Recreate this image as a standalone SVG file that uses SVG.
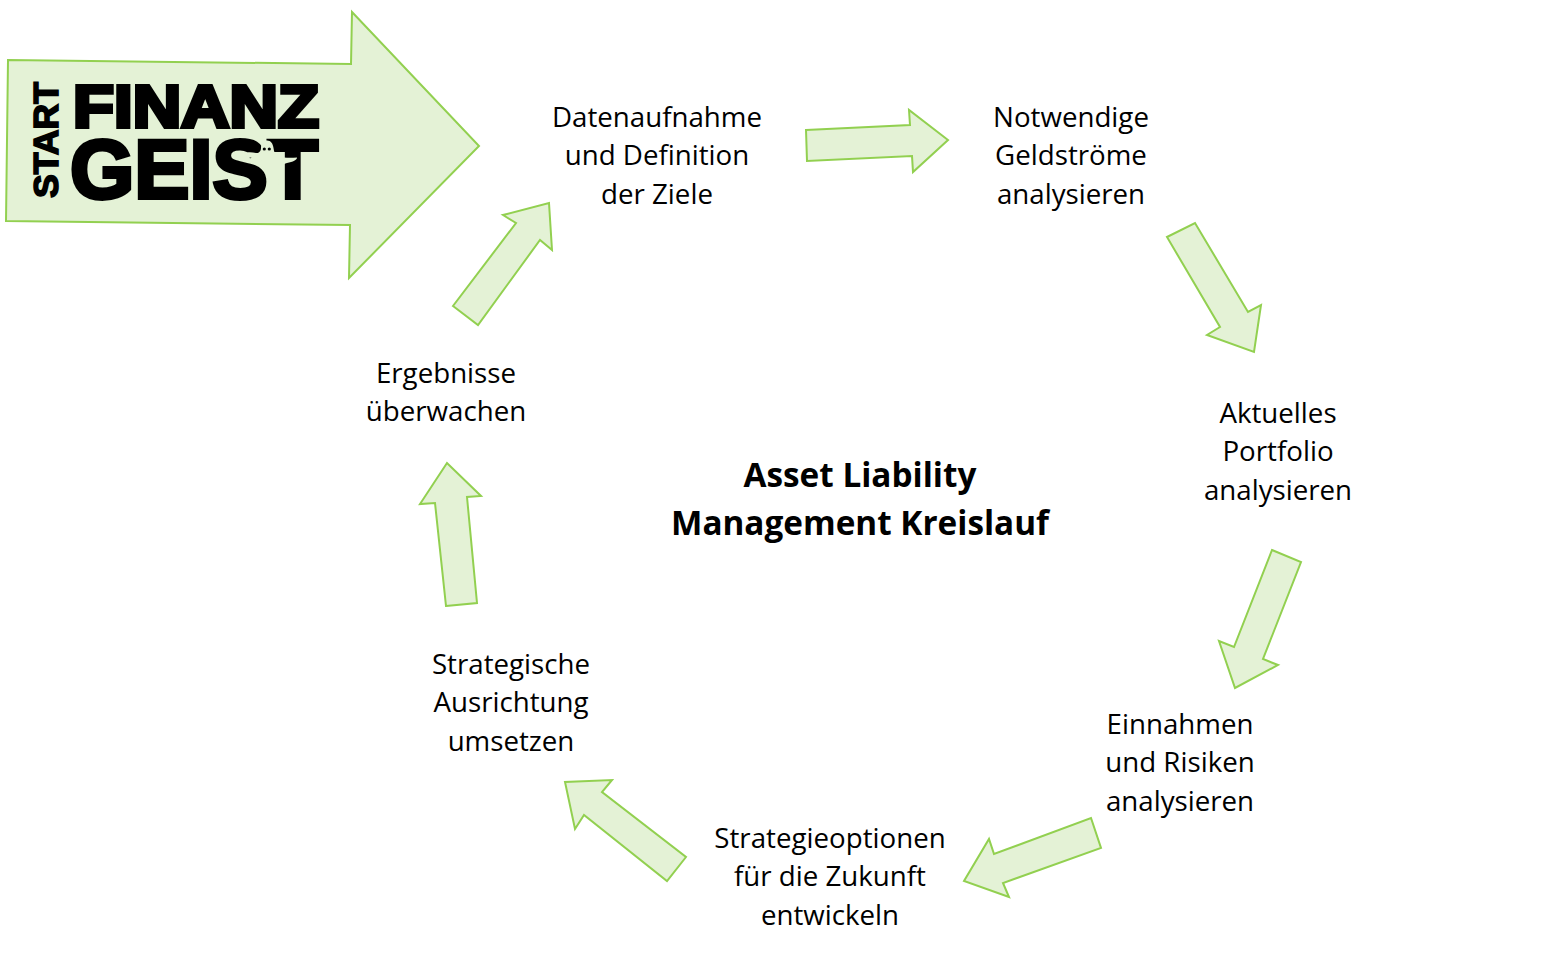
<svg xmlns="http://www.w3.org/2000/svg" width="1566" height="971" viewBox="0 0 1566 971">
<style>
.a{fill:#e4f2d6;stroke:#92d050;stroke-width:2;stroke-linejoin:miter}
.t{font-family:"Open Sans","Noto Sans",sans-serif;font-size:27.7px;fill:#000;text-anchor:middle}
.h{font-family:"Open Sans","Noto Sans",sans-serif;font-size:33.3px;font-weight:700;fill:#000;text-anchor:middle}
.l{font-family:"Liberation Sans",Arial,sans-serif;font-weight:700;fill:#000;stroke:#000;stroke-linejoin:miter}
</style>
<rect width="1566" height="971" fill="#fff"/>
<g id="start">
<polygon class="a" points="8,60 351,64 352,12 479,146 349,278 350,225 6,221"/>
<text class="l" transform="translate(58,198) rotate(-90)" font-size="35" stroke-width="1.6" textLength="116" lengthAdjust="spacingAndGlyphs">START</text>
<text class="l" x="73" y="127" font-size="60" stroke-width="4" textLength="246" lengthAdjust="spacingAndGlyphs">FINANZ</text>
<text class="l" x="70" y="198" font-size="84" stroke-width="4" textLength="248" lengthAdjust="spacingAndGlyphs">GEIST</text>
<path d="M261 148C261 143 264 140.5 267 140.5C271 140.5 273 144 273.5 148C274 152 275 155 278 156.5C284 158 291 158 297 157.5C297 160 293 162 287 163C283 164 281.5 166 282 170C284 178 285 188 279 195C277 198 274 200 270 202L267 201C274 196 279 190 279 183C279 175 276 167 270 164C264 161 258 159 252 158C248 157 245 156 243 154C248 151 254 153 258 153C260 152 261 150 261 148Z" fill="#e4f2d6"/>
<circle cx="264.3" cy="149" r="1.6" fill="#000"/>
<circle cx="269.3" cy="149" r="1.6" fill="#000"/>
</g>
<g id="connectors">
<polygon class="a" points="806,130 910,125 909,110 948,140 913,172 912,156 807,161"/>
<polygon class="a" points="1167,237 1195,223 1248,312 1261,305 1254,352 1207,335 1220,327"/>
<polygon class="a" points="1272,550 1301,562 1263,659 1278,665 1235,688 1219,641 1234,647"/>
<polygon class="a" points="1091,818 1101,848 1003,883 1009,897 964,881 989,839 994,854"/>
<polygon class="a" points="686,857 667,881 584,815 575,829 565,782 612,780 602,792"/>
<polygon class="a" points="446,606 477,603 467,497 481,496 447,463 420,504 435,503"/>
<polygon class="a" points="453,306 478,325 540,240 552,250 549,203 503,215 516,223"/>
</g>
<g id="n1"><text class="t" x="657" y="127">Datenaufnahme</text><text class="t" x="657" y="165">und Definition</text><text class="t" x="657" y="204">der Ziele</text></g>
<g id="n2"><text class="t" x="1071" y="127">Notwendige</text><text class="t" x="1071" y="165">Geldströme</text><text class="t" x="1071" y="204">analysieren</text></g>
<g id="n3"><text class="t" x="1278" y="423">Aktuelles</text><text class="t" x="1278" y="461">Portfolio</text><text class="t" x="1278" y="500">analysieren</text></g>
<g id="n4"><text class="t" x="1180" y="734">Einnahmen</text><text class="t" x="1180" y="772">und Risiken</text><text class="t" x="1180" y="811">analysieren</text></g>
<g id="n5"><text class="t" x="830" y="848">Strategieoptionen</text><text class="t" x="830" y="886">für die Zukunft</text><text class="t" x="830" y="925">entwickeln</text></g>
<g id="n6"><text class="t" x="511" y="674">Strategische</text><text class="t" x="511" y="712">Ausrichtung</text><text class="t" x="511" y="751">umsetzen</text></g>
<g id="n7"><text class="t" x="446" y="383">Ergebnisse</text><text class="t" x="446" y="421">überwachen</text></g>
<g id="title"><text class="h" x="860" y="487">Asset Liability</text><text class="h" x="860" y="535">Management Kreislauf</text></g>
</svg>
